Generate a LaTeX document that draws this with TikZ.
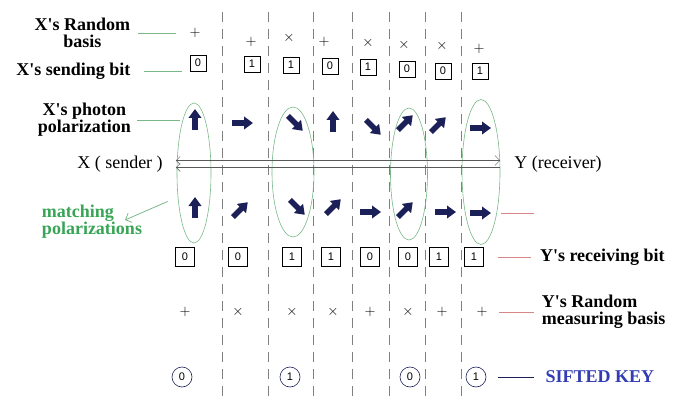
\documentclass[tikz,border=0pt]{standalone}
\usepackage{fontspec}
\setmainfont{Liberation Serif}
\newfontfamily\bitfont{Liberation Sans}
\usepackage{xcolor}
\usepackage{tikz}
\usetikzlibrary{shapes.geometric, arrows.meta, positioning}

\definecolor{photonblue}{RGB}{28,32,88}
\definecolor{matchgreen}{RGB}{120,185,135}
\definecolor{labelgreen}{RGB}{55,165,85}
\definecolor{recvred}{RGB}{215,135,135}
\definecolor{keyblue}{RGB}{50,60,180}

\begin{document}
\begin{tikzpicture}[
    x=1pt, y=-1pt,
    node distance=56pt,
    lbl/.style={font=\fontsize{18}{17}\selectfont\bfseries, align=center, inner sep=1pt},
    plain/.style={font=\fontsize{18}{18}\selectfont, inner sep=1pt},
    basis/.style={font=\Large, inner sep=1pt},
    bitbox/.style={rectangle, draw, semithick, minimum size=16pt, inner sep=0pt, font=\bitfont\fontsize{11}{11}\selectfont},
    keybit/.style={circle, draw=photonblue, semithick, minimum size=20pt, inner sep=0pt, font=\bitfont\fontsize{11}{11}\selectfont},
    photon/.style={photonblue, line width=5.5pt, -{Triangle[length=9pt, width=12.5pt]}},
    divider/.style={gray, dash pattern=on 10pt off 7pt, thin},
    match/.style={ellipse, draw=matchgreen, semithick, inner sep=0pt},
    gline/.style={matchgreen, thick},
    rline/.style={recvred, thick},
    channel/.style={gray!70!black, thin}
]
    \useasboundingbox (0,0) rectangle (683,401);

    % column dividers
    \foreach \d in {222,268,313,352,389,425,461}
        \draw[divider] (\d,12) -- (\d,401);

    % X side
    \foreach \i/\px/\py/\sym in {1/195/33/+, 2/251/42/+, 3/289/38/\times, 4/324/42/+, 5/368/43/\times, 6/404/45/\times, 7/442/46/\times, 8/479/49/+}
        \node[basis] (xb\i) at (\px,\py) {$\sym$};
    \foreach \i/\px/\py/\bit in {1/198/63/0, 2/252/64/1, 3/291/65/1, 4/330/66/0, 5/368/67/1, 6/407/69/0, 7/443/71/0, 8/480/71/1}
        \node[bitbox] (xs\i) at (\px,\py) {\bit};
    \foreach \i/\px/\py/\ang in {1/195/120/90, 2/242/123/0, 3/295/123/-45, 4/333/122/90, 5/373/127/-45, 6/405/123/45, 7/438/125/45, 8/480/128/0} {
        \coordinate (xp\i) at (\px,\py);
        \draw[photon] (xp\i) ++(\ang+180:10pt) -- ++(\ang:21pt);
    }

    % Y side
    \foreach \i/\px/\py/\ang in {1/195/208/90, 2/240/210/45, 3/297/207/-45, 4/333/207/45, 5/370/212/0, 6/405/210/45, 7/445/212/0, 8/480/213/0} {
        \coordinate (yp\i) at (\px,\py);
        \draw[photon] (yp\i) ++(\ang+180:10pt) -- ++(\ang:21pt);
    }
    \foreach \i/\px/\bit in {1/185/0, 2/238/0, 3/292/1, 4/331/1, 5/370/0, 6/408/0, 7/439/1, 8/474/1}
        \node[bitbox, minimum size=19pt] (yr\i) at (\px,257) {\bit};
    \foreach \i/\px/\sym in {1/185/+, 2/238/\times, 3/292/\times, 4/333/\times, 5/370/+, 6/408/\times, 7/442/+, 8/482/+}
        \node[basis] (ym\i) at (\px,312) {$\sym$};
    \foreach \i/\px/\bit in {1/182/0, 3/290/1, 6/410/0, 8/476/1}
        \node[keybit] (sk\i) at (\px,377) {\bit};

    % matching polarizations
    \node[match, minimum width=34pt, minimum height=140pt] (m1) at (194,173) {};
    \node[match, minimum width=42pt, minimum height=130pt] (m3) at (293,172) {};
    \node[match, minimum width=37pt, minimum height=132pt] (m6) at (409,174) {};
    \node[match, minimum width=38pt, minimum height=145pt] (m8) at (481,172) {};

    % channel
    \node[plain] (xsender) at (120,164) {X ( sender )};
    \node[plain] (yrecv) at (558,164) {Y (receiver)};
    \draw[channel, {Straight Barb[length=4pt]}-{Straight Barb[length=5pt]}, shorten <=12pt, shorten >=13pt]
        ([yshift=3.5pt]xsender.east) -- ([yshift=3.5pt]yrecv.west);
    \draw[channel, {Straight Barb[length=4pt]}-, shorten <=12pt, shorten >=13pt]
        ([yshift=-3.5pt]xsender.east) -- ([yshift=-3.5pt]yrecv.west);

    % left labels
    \node[lbl, left=57pt of xb1] (xbasislbl) {X\textquotesingle s Random\\basis};
    \node[lbl, left=58pt of xs1, yshift=-8pt] (xsendlbl) {X\textquotesingle s sending bit};
    \node[lbl, left=63pt of xp1] (xphotonlbl) {X\textquotesingle s photon\\polarization};
    \draw[gline, shorten <=7pt, shorten >=12pt] (xbasislbl) -- (xb1);
    \draw[gline, shorten <=12pt, shorten >=8pt] (xsendlbl.east) -- (xsendlbl.east -| xs1.west);
    \draw[gline, shorten <=5pt, shorten >=15pt] (xphotonlbl) -- (xp1);

    \node[lbl, text=labelgreen, align=left] (matchlbl) at (92,222) {matching\\polarizations};
    \coordinate (matchtip) at (125,220);
    \draw[matchgreen, thick, -{Straight Barb[length=5pt]}, shorten <=11pt] (m1.236) -- (matchtip);

    % right labels
    \coordinate (yredend) at (534,213);
    \draw[rline, shorten <=21pt] (yp8) -- (yredend);
    \node[lbl, right=55pt of yr8] (yrecvlbl) {Y\textquotesingle s receiving bit};
    \draw[rline, shorten <=14pt, shorten >=8pt] (yr8) -- (yrecvlbl);
    \node[lbl, align=left, right=52pt of ym8] (ymeaslbl) {Y\textquotesingle s Random\\measuring basis};
    \draw[rline, shorten <=10pt, shorten >=7pt] (ym8) -- (ymeaslbl);
    \node[lbl, text=keyblue, right=58pt of sk8] (keylbl) {SIFTED KEY};
    \draw[photonblue, thick, shorten <=12pt, shorten >=10pt] (sk8) -- (keylbl);
\end{tikzpicture}
\end{document}
